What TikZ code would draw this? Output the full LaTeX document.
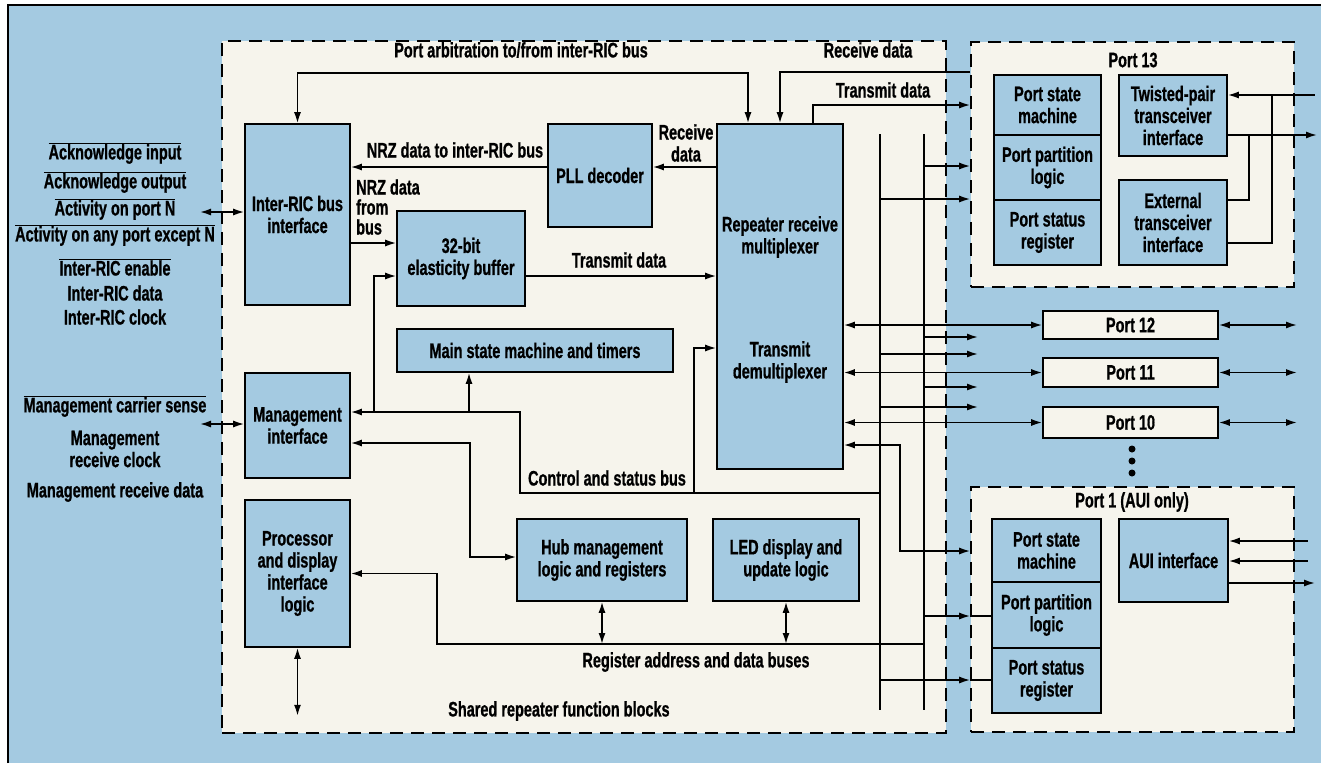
\documentclass[tikz,border=0pt]{standalone}
\usepackage{fontspec}
\setmainfont{Liberation Sans}[FakeStretch=0.69,BoldFeatures={FakeBold=0.8}]
\usepackage{tikz}
\usetikzlibrary{arrows.meta}
\usepackage{xcolor}
\definecolor{panel}{RGB}{164,202,225}
\definecolor{paper}{RGB}{246,244,236}
\newcommand{\ovl}[1]{$\overline{\mbox{#1}}$}

\begin{document}
\begin{tikzpicture}[x=1pt,y=-1pt,
  every node/.style={font=\fontsize{21}{22}\selectfont\bfseries,inner sep=0pt,align=center},
  sz/.style 2 args={minimum width=#1pt,minimum height=#2pt},
  blk/.style={draw,line width=1.6pt,fill=panel},
  portblk/.style={draw,line width=1.6pt,fill=paper},
  region/.style={draw,line width=1.6pt,fill=paper,dash pattern=on 13pt off 8pt},
  wire/.style={line width=1.6pt},
  >={Latex[length=11pt,width=7pt]}]
  \useasboundingbox (0,0) rectangle (1321,763);
  \fill[white] (0,0) rectangle (1321,763);
  \fill[panel] (8,5) rectangle (1321,763);
  \draw[wire] (8,763) -- (8,5) -- (1321,5);

  % dashed areas
  \node[region,sz={724}{692}] (shared) at (584,387) {};
  \node[region,sz={323}{245}] (p13reg) at (1132.5,164.5) {};
  \node[region,sz={323}{245}] (p1reg) at (1132.5,609.5) {};

  % shared blocks
  \node[blk,sz={105}{181}] (irb) at (297.5,214.5) {Inter-RIC bus\\interface};
  \node[blk,sz={105}{105}] (mgmt) at (297.5,425.5) {Management\\interface};
  \node[blk,sz={105}{147}] (proc) at (297.5,573.5) {Processor\\and display\\interface\\logic};
  \node[blk,sz={104}{103}] (pll) at (600,175.5) {PLL decoder};
  \node[blk,sz={128}{95}] (buf) at (461,258.5) {32-bit\\elasticity buffer};
  \node[blk,sz={276}{43}] (msm) at (535,350.5) {Main state machine and timers};
  \node[blk,sz={126}{345}] (rep) at (780,296.5) {};
  \node (reprx) at (780,237) {Repeater receive\\multiplexer};
  \node (reptx) at (780,362) {Transmit\\demultiplexer};
  \node[blk,sz={170}{82}] (hub) at (602,560) {Hub management\\logic and registers};
  \node[blk,sz={146}{82}] (led) at (786,560) {LED display and\\update logic};

  % port 13
  \node (lp13) at (1133,60) {Port 13};
  \node[blk,sz={107}{60}] (psm13) at (1047.5,105) {Port state\\machine};
  \node[blk,sz={107}{65}] (ppl13) at (1047.5,167.5) {Port partition\\logic};
  \node[blk,sz={107}{65}] (pst13) at (1047.5,232.5) {Port status\\register};
  \node[blk,sz={108}{81}] (tp) at (1173,115.5) {Twisted-pair\\transceiver\\interface};
  \node[blk,sz={108}{85}] (ext) at (1173,222.5) {External\\transceiver\\interface};

  % port 1
  \node (lp1) at (1132,502) {Port 1 (AUI only)};
  \node[blk,sz={109}{63}] (psm1) at (1046.5,550.5) {Port state\\machine};
  \node[blk,sz={109}{66}] (ppl1) at (1046.5,615) {Port partition\\logic};
  \node[blk,sz={109}{65}] (pst1) at (1046.5,680.5) {Port status\\register};
  \node[blk,sz={109}{83}] (aui) at (1173.5,560.5) {AUI interface};

  % ports 12 to 10
  \node[portblk,sz={175}{28}] (p12) at (1130.5,325) {Port 12};
  \node[portblk,sz={175}{29}] (p11) at (1130.5,372.5) {Port 11};
  \node[portblk,sz={175}{31}] (p10) at (1130.5,422.5) {Port 10};
  \foreach \y in {449,461,473}
    \fill (1132,\y) circle (3.5);

  % labels
  \node (larb) at (521,50) {Port arbitration to/from inter-RIC bus};
  \node (lrx) at (868,50) {Receive data};
  \node (ltx) at (883,90) {Transmit data};
  \node (lrxd) at (686,143) {Receive\\data};
  \node (lnrzto) at (455,150) {NRZ data to inter-RIC bus};
  \node[anchor=west,align=left,font=\fontsize{21}{20}\selectfont\bfseries] (lnrzfrom) at (356,207) {NRZ data\\from\\bus};
  \node (ltxd) at (619,260) {Transmit data};
  \node (lcsb) at (607,478) {Control and status bus};
  \node (lreg) at (696,662) {Register address and data buses};
  \node[anchor=west] (lshared) at (448,711) {Shared repeater function blocks};

  % pins on the left
  \foreach \y/\t [count=\i] in {153/\ovl{Acknowledge input},182/\ovl{Acknowledge output},
      209/\ovl{Activity on port N},235/\ovl{Activity on any port except N},
      267/\ovl{Inter-RIC enable},293/Inter-RIC data,317/Inter-RIC clock}
    \node (sig\i) at (115,\y) {\t};
  \node (mcs) at (115,406) {\ovl{Management carrier sense}};
  \node (mrc) at (115,449) {Management\\receive clock};
  \node (mrd) at (115,492) {Management receive data};
  \coordinate (sigend) at (200,212);
  \coordinate (mgtend) at (200,424);
  \draw[wire,<->] (sigend) -- (irb.west |- sigend);
  \draw[wire,<->] (mgtend) -- (mgmt.west |- mgtend);

  % buses
  \coordinate (busa) at (880,134);
  \coordinate (busb) at (924,134);
  \draw[wire] (busa) -- (880,710);
  \draw[wire] (busb) -- (924,710);

  % data paths
  \draw[wire,<->] (irb.north) |- (748,73) -- ([xshift=-32pt]rep.north);
  \draw[wire,->] (p13reg.west |- 0,72) -| (rep.north);
  \draw[wire,->] ([xshift=33pt]rep.north) |- (p13reg.west |- 0,105);
  \draw[wire,->] (rep.west |- 0,167) -- (pll.east |- 0,167);
  \draw[wire,->] (pll.west |- 0,167) -- (irb.east |- 0,167);
  \draw[wire,->] (irb.east |- 0,243) -- (buf.west |- 0,243);
  \draw[wire,->] (buf.east |- 0,276) -- (rep.west |- 0,276);

  % control and status bus
  \draw[wire,->] (busa |- 0,493) -| (520,412) -- (mgmt.east |- 0,412);
  \draw[wire,->] (374,412) |- (buf.west |- 0,276);
  \draw[wire,->] (469,412) -- (msm.south -| 469,0);
  \draw[wire,->] (694,493) |- (rep.west |- 0,348);
  \draw[wire,<->] (mgmt.east |- 0,443) -| (470,557) -- (hub.west |- 0,557);

  % register address and data buses
  \draw[wire,->] (busb |- 0,644) -- (437,644) |- (proc.east);
  \draw[wire,<->] (hub.south) -- (hub.south |- 0,644);
  \draw[wire,<->] (led.south) -- (led.south |- 0,644);
  \draw[wire,<->] (proc.south) -- ++(0,68);

  % to and from the ports
  \foreach \p in {p12,p11,p10} {
    \draw[wire,<->] (rep.east |- \p.west) -- (\p.west);
    \draw[wire,<->] (\p.east) -- (\p.east -| 1297,0);
  }
  \draw[wire,<->] (rep.east |- 0,445) -| (900,551) -- (p1reg.west |- 0,551);
  \foreach \y/\b in {337/busb,354/busa,387/busb,407/busa}
    \draw[wire,->] (\b |- 0,\y) -- (978,\y);
  \draw[wire,->] (busb |- 0,166) -- (p13reg.west |- 0,166);
  \draw[wire,->] (busa |- 0,199) -- (p13reg.west |- 0,199);
  \draw[wire,->] (busb |- 0,616) -- (p1reg.west |- 0,616);
  \draw[wire] (p1reg.west |- 0,616) -- (ppl1.west |- 0,616);
  \draw[wire,->] (busa |- 0,680) -- (p1reg.west |- 0,680);
  \draw[wire] (p1reg.west |- 0,680) -- (pst1.west |- 0,680);

  % line side of port 13 and port 1
  \draw[wire,<-] (tp.east |- 0,95) -- (1315,95);
  \draw[wire,->] (tp.east |- 0,135) -- (1317,135);
  \draw[wire] (1249,135) |- (ext.east |- 0,200);
  \draw[wire] (1272,95) |- (ext.east |- 0,243);
  \draw[wire,<-] (aui.east |- 0,541) -- (1308,541);
  \draw[wire,<-] (aui.east |- 0,561) -- (1308,561);
  \draw[wire,->] (aui.east |- 0,583) -- (1315,583);
\end{tikzpicture}
\end{document}
